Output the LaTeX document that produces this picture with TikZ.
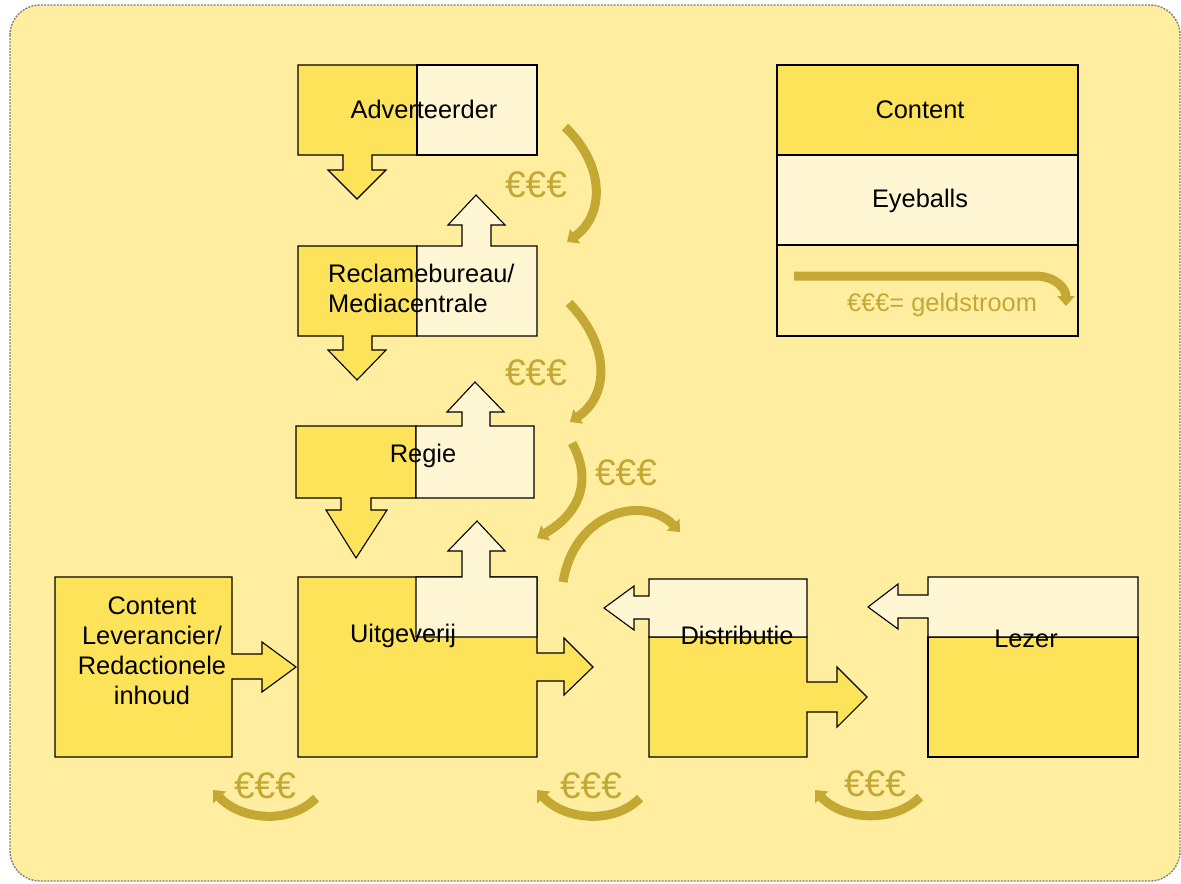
\documentclass[tikz,border=0pt]{standalone}
\usepackage{fontspec}
\setmainfont{Liberation Sans}
\usepackage{tikz}
\usetikzlibrary{arrows.meta}

\definecolor{bgyellow}{HTML}{FFEEA0}
\definecolor{darkyellow}{HTML}{FDE35A}
\definecolor{lightcream}{HTML}{FFF7D4}
\definecolor{gold}{HTML}{C4A834}

\begin{document}
\begin{tikzpicture}[x=0.5pt, y=-0.5pt, line width=0.55pt,
    content/.style={fill=darkyellow, draw=black},
    eyeball/.style={fill=lightcream, draw=black},
    money/.style={draw=gold, line width=4.5pt, -{Triangle[length=5pt,width=8.5pt]}},
    euro/.style={text=gold, font=\fontsize{18.5}{22}\selectfont},
    every node/.style={font=\fontsize{12.7}{15}\selectfont}]
    \useasboundingbox (0,0) rectangle (1181,883);

    % background
    \draw[fill=bgyellow, draw=gray, line width=0.7pt, dash pattern=on 1pt off 0.6pt, rounded corners=15pt] (10,5) rectangle (1180,881);

    % Adverteerder
    \draw[content] (298,65) -- (417,65) -- (417,155) -- (372,155) -- (372,170) -- (386,170) -- (357,199) -- (328,170) -- (343,170) -- (343,155) -- (298,155) -- cycle;
    \draw[eyeball] (417,65) rectangle (537,155);
    \node (adv) at (424,109) {Adverteerder};

    % Reclamebureau
    \draw[content] (298,246) -- (417,246) -- (417,336) -- (372,336) -- (372,350) -- (386,350) -- (357,380) -- (328,350) -- (343,350) -- (343,336) -- (298,336) -- cycle;
    \draw[eyeball] (417,246) -- (462,246) -- (462,225) -- (448,225) -- (476,195) -- (505,225) -- (491,225) -- (491,246) -- (537,246) -- (537,336) -- (417,336) -- cycle;
    \node[anchor=west, align=left] (reclame) at (321,288) {Reclamebureau/\\Mediacentrale};

    % Regie
    \draw[content] (296,426) -- (416,426) -- (416,498) -- (371,498) -- (371,510) -- (387,510) -- (356,558) -- (326,510) -- (341,510) -- (341,498) -- (296,498) -- cycle;
    \draw[eyeball] (416,426) -- (462,426) -- (462,412) -- (447,412) -- (475,382) -- (504,412) -- (490,412) -- (490,426) -- (534,426) -- (534,498) -- (416,498) -- cycle;
    \node (regie) at (423,456) {Regie};

    % Content leverancier
    \draw[content] (55,577) -- (232,577) -- (232,654) -- (262,654) -- (262,642) -- (296,667) -- (262,692) -- (262,679) -- (232,679) -- (232,757) -- (55,757) -- cycle;
    \node[align=center] (lev) at (152,651) {Content\\Leverancier/\\Redactionele\\inhoud};

    % Uitgeverij
    \draw[content] (298,577) -- (537,577) -- (537,653) -- (564,653) -- (564,638) -- (593,667) -- (564,695) -- (564,681) -- (537,681) -- (537,757) -- (298,757) -- cycle;
    \draw[eyeball] (416,577) -- (462,577) -- (462,551) -- (448,551) -- (477,521) -- (505,551) -- (490,551) -- (490,577) -- (537,577) -- (537,637) -- (416,637) -- cycle;
    \node (uitg) at (403,636) {Uitgeverij};

    % Distributie
    \draw[content] (649,637) -- (807,637) -- (807,682) -- (837,682) -- (837,667) -- (867,697) -- (837,727) -- (837,712) -- (807,712) -- (807,757) -- (649,757) -- cycle;
    \draw[eyeball] (649,579) -- (807,579) -- (807,637) -- (649,637) -- (649,619) -- (634,619) -- (634,630) -- (604,608) -- (634,586) -- (634,596) -- (649,596) -- cycle;
    \node (distr) at (737,635) {Distributie};

    % Lezer
    \draw[content] (928,637) rectangle (1138,757);
    \draw[eyeball] (928,577) -- (1138,577) -- (1138,637) -- (928,637) -- (928,618) -- (898,618) -- (898,629) -- (868,607) -- (898,584) -- (898,595) -- (928,595) -- cycle;
    \node (lezer) at (1026,639) {Lezer};

    % geldstroom
    \draw[money] (565,127) .. controls (605,165) and (605,215) .. (567,242);
    \node[euro] (e1) at (536,185) {€€€};
    \draw[money] (569,303) .. controls (610,345) and (610,395) .. (570,422);
    \node[euro] (e2) at (536,373) {€€€};
    \draw[money] (572,443) .. controls (590,475) and (585,510) .. (537,538);
    \node[euro] (e3) at (626,473) {€€€};
    \draw[money] (563,582) .. controls (575,510) and (645,495) .. (680,532);

    \draw[money] (316,798) .. controls (290,825) and (240,820) .. (213,790);
    \node[euro] (e4) at (265,786) {€€€};
    \draw[money] (640,798) .. controls (614,825) and (564,820) .. (537,790);
    \node[euro] (e5) at (591,786) {€€€};
    \draw[money] (920,797) .. controls (894,824) and (842,820) .. (815,790);
    \node[euro] (e6) at (875,784) {€€€};

    % legenda
    \draw[content] (777,65) rectangle (1078,155);
    \draw[eyeball] (777,155) rectangle (1078,245);
    \draw (777,245) rectangle (1078,336);
    \node (lcontent) at (920,110) {Content};
    \node (leye) at (920,201) {Eyeballs};
    \draw[money] (794,276) -- (1035,276) .. controls (1055,276) and (1066,288) .. (1066,306);
    \node[text=gold] (lgeld) at (942,305) {€€€= geldstroom};
\end{tikzpicture}
\end{document}
